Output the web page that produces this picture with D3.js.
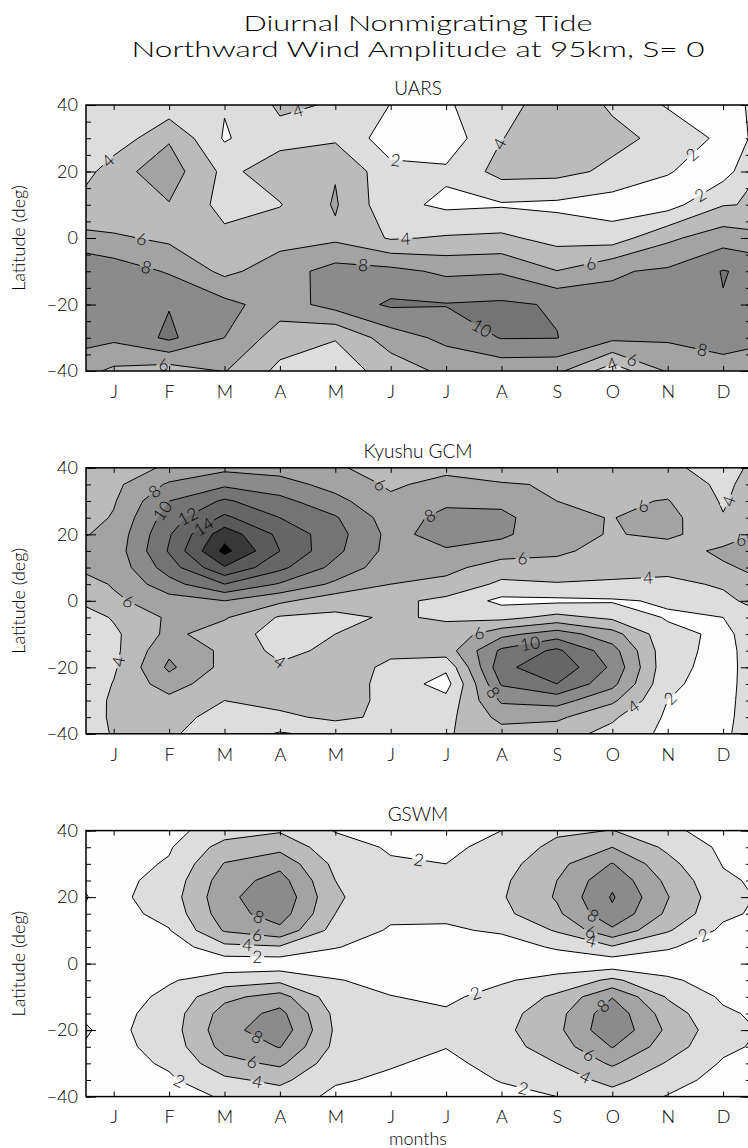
<!DOCTYPE html>
<html lang="en">
<head>
<meta charset="UTF-8">
<title>Diurnal Nonmigrating Tide</title>
<script src="https://d3js.org/d3.v7.min.js"></script>
<style>
  body { margin: 0; background: #fff; }
  text { font-family: Lato, "DejaVu Sans", sans-serif; font-weight: 300; }
</style>
</head>
<body>
<div id="chart"></div>
<script>
// ---- data -------------------------------------------------------------
const monthLabels = ["J", "F", "M", "A", "M", "J", "J", "A", "S", "O", "N", "D"];
const latTicks = [40, 20, 0, -20, -40];
const minorLatTicks = d3.range(-40, 41, 5);
const levels = [2, 4, 6, 8, 10, 12, 14, 16, 18];
const bandColors = ["#fdfdfd", "#dddddd", "#bbbbbb", "#a3a3a3", "#8b8b8b",
                    "#747474", "#666666", "#5a5a5a", "#383838", "#000000"];

// UARS, 10 deg latitude rows (40 .. -40), columns Jan .. Dec
const uarsLats = [40, 30, 20, 10, 0, -10, -20, -30, -40];
const uarsRows = [
  [2.6, 2.7, 2.13, 4.3, 3.85, 1.95, 1.8, 3.1, 5.3, 3.75, 1.8, 1.6],
  [2.6, 5.8, 1.8, 3.4, 3.7, 0.9, 0.8, 3.95, 5.0, 4.5, 3.5, 1.5],
  [5.3, 7.0, 3.5, 5.0, 5.87, 2.6, 2.33, 4.7, 4.6, 3.6, 2.1, 1.2],
  [4.3, 5.9, 3.33, 3.9, 6.2, 2.6, 1.6, 1.8, 1.6, 1.0, 1.2, 3.9],
  [6.3, 5.6, 4.5, 5.3, 5.6, 3.8, 4.2, 4.4, 3.3, 3.0, 5.6, 7.1],
  [9.1, 7.8, 5.5, 7.05, 8.8, 8.6, 7.6, 7.8, 6.05, 7.8, 8.3, 10.1],
  [9.5, 9.9, 8.6, 7.0, 8.8, 10.3, 10.1, 10.3, 9.83, 8.5, 9.0, 9.9],
  [8.4, 10.4, 8.0, 5.0, 4.1, 7.0, 8.5, 10.1, 10.05, 8.5, 8.3, 8.5],
  [5.6, 4.9, 6.1, 3.5, 3.0, 4.8, 6.5, 6.6, 6.5, 2.8, 6.2, 7.5]
];

// Kyushu GCM, 5 deg latitude rows (40 .. -40)
const kyushuLats = d3.range(40, -41, -5);
const kyushuRows = [
  [5.0, 6.3, 7.5, 7.2, 6.3, 5.0, 5.5, 4.6, 4.6, 4.5, 4.3, 3.4],
  [5.5, 8.3, 9.6, 8.8, 7.3, 5.7, 6.6, 6.2, 5.8, 5.4, 5.2, 3.6],
  [5.8, 10.0, 12.3, 10.6, 8.6, 6.4, 7.6, 7.4, 6.0, 5.7, 6.1, 3.8],
  [6.2, 11.0, 14.4, 12.0, 10.2, 7.0, 8.6, 8.6, 6.3, 5.95, 6.7, 4.1],
  [6.6, 11.8, 17.2, 13.5, 10.8, 7.4, 8.8, 8.4, 6.5, 5.9, 6.3, 5.2],
  [6.8, 12.2, 18.6, 14.0, 10.5, 7.3, 7.8, 7.0, 6.2, 5.6, 5.3, 6.3],
  [6.6, 11.0, 15.8, 12.5, 9.4, 6.8, 6.6, 5.0, 5.6, 5.0, 4.7, 5.8],
  [6.2, 9.2, 12.0, 9.8, 7.6, 6.0, 5.4, 3.6, 3.8, 3.6, 3.4, 4.3],
  [5.6, 7.2, 8.0, 6.4, 4.8, 4.5, 3.5, 1.5, 1.6, 1.8, 2.2, 3.4],
  [4.2, 6.3, 6.2, 3.8, 3.6, 4.2, 3.8, 3.4, 4.6, 3.6, 1.8, 2.0],
  [3.6, 6.5, 5.0, 3.2, 4.0, 4.3, 4.6, 7.4, 9.0, 6.8, 2.6, 1.6],
  [3.5, 7.6, 5.6, 3.4, 4.5, 4.4, 5.0, 10.4, 12.4, 8.8, 2.6, 1.5],
  [3.7, 8.4, 5.4, 4.3, 5.0, 3.6, 2.4, 11.4, 13.6, 9.6, 2.5, 1.4],
  [4.1, 7.0, 4.6, 4.8, 5.3, 3.2, 1.2, 10.2, 12.0, 8.6, 2.3, 1.3],
  [4.4, 5.4, 4.0, 4.6, 5.0, 3.4, 2.6, 8.3, 8.8, 6.4, 2.0, 1.3],
  [4.4, 4.4, 3.6, 3.6, 4.4, 3.6, 3.4, 6.6, 6.4, 4.3, 1.7, 1.4],
  [4.2, 4.2, 3.2, 1.8, 2.6, 3.4, 3.8, 5.2, 4.8, 3.4, 1.5, 1.6]
];

// GSWM, 5 deg latitude rows (40 .. -40)
const gswmLats = d3.range(40, -41, -5);
const gswmRows = [
  [0.8, 1.4, 3.0, 3.8, 1.9, 1.4, 1.2, 2.0, 3.6, 4.05, 2.4, 1.2],
  [1.0, 1.8, 4.8, 5.4, 2.8, 1.8, 1.6, 2.6, 4.6, 6.0, 3.6, 1.6],
  [1.2, 2.2, 6.1, 7.4, 3.5, 2.2, 2.0, 3.2, 5.4, 8.1, 4.6, 1.9],
  [1.4, 2.7, 7.0, 8.8, 4.0, 2.5, 2.3, 3.6, 6.0, 9.5, 5.5, 2.3],
  [1.5, 3.0, 7.4, 9.6, 4.3, 2.6, 2.4, 3.8, 6.2, 10.2, 6.1, 2.6],
  [1.3, 2.6, 7.1, 9.0, 4.0, 2.4, 2.3, 3.5, 5.6, 9.6, 5.6, 2.4],
  [1.0, 1.9, 6.2, 7.5, 3.2, 1.8, 1.8, 2.2, 4.2, 7.6, 4.2, 1.6],
  [0.6, 0.8, 3.5, 3.8, 2.1, 1.2, 1.2, 1.3, 2.2, 3.8, 2.2, 1.0],
  [0.4, 0.5, 0.8, 0.8, 0.9, 0.8, 0.7, 0.8, 1.0, 0.8, 1.0, 0.6],
  [0.6, 1.8, 3.0, 3.5, 2.1, 1.5, 1.2, 1.8, 2.6, 4.4, 2.3, 1.2],
  [1.0, 2.5, 5.5, 6.8, 2.8, 2.05, 1.7, 2.6, 4.4, 7.9, 3.8, 1.7],
  [1.35, 2.9, 6.8, 8.6, 3.5, 2.5, 2.2, 3.2, 5.3, 9.3, 5.0, 2.3],
  [1.55, 3.0, 7.27, 9.3, 3.7, 2.7, 2.4, 3.5, 5.5, 9.6, 5.6, 2.7],
  [1.4, 2.8, 6.7, 8.1, 3.5, 2.5, 2.05, 3.2, 5.0, 8.1, 5.0, 2.4],
  [1.2, 2.3, 5.3, 6.4, 2.8, 2.15, 1.6, 2.6, 4.0, 6.3, 3.8, 1.8],
  [1.0, 1.7, 3.6, 4.5, 2.2, 1.7, 1.2, 2.1, 3.0, 4.6, 2.8, 1.3],
  [0.9, 1.2, 2.2, 3.0, 1.6, 1.2, 0.9, 1.5, 2.0, 3.2, 1.9, 1.0]
];

// contour labels: level, month (Jan = 1), latitude
const uarsLabels = [
  [4, 0.93, 22.6], [4, 4.33, 38], [6, 1.5, -1], [8, 1.57, -10], [8, 5.5, -8.8],
  [6, 1.9, -38], [2, 6.09, 23.8], [4, 7.95, 28.5], [2, 11.42, 25.5], [2, 11.64, 11.5],
  [4, 6.27, -0.7], [6, 9.61, -7.4], [10, 7.66, -26.6], [8, 11.64, -32.4],
  [6, 10.37, -36.3], [4, 10.0, -38]
];
const kyushuLabels = [
  [8, 1.57, 36.3], [10, 1.6, 30.3], [12, 2.25, 28.3], [14, 2.53, 24.8], [6, 4.6, 36.6],
  [6, 1.2, -2.4], [4, 0.81, -17.4], [4, 4.13, -24.4], [8, 6.72, 25.2], [6, 8.38, 11.7],
  [6, 10.64, 25.2], [4, 10.64, 8.3], [6, 7.56, -6.7], [10, 8.47, -8.3], [8, 8.04, -25.5],
  [4, 10.39, -32], [2, 11.09, -30], [4, 12.27, 28.8], [6, 12.3, 18.8]
];
const gswmLabels = [
  [8, 3.61, 13.6], [6, 3.59, 8.6], [4, 3.41, 6.1], [2, 3.59, 2.6],
  [8, 3.59, -22], [6, 3.5, -29.5], [4, 3.59, -35.9], [2, 2.17, -35.8],
  [2, 6.51, 31.4], [8, 9.64, 14.1], [6, 9.61, 9.6], [4, 9.61, 6.1], [2, 11.66, 8.1],
  [2, 7.53, -8.9], [8, 9.79, -11.9], [6, 9.58, -27.5], [4, 9.52, -33.8], [2, 8.41, -36.5]
];

const panels = [
  { title: "UARS", lats: uarsLats, rows: uarsRows, labels: uarsLabels },
  { title: "Kyushu GCM", lats: kyushuLats, rows: kyushuRows, labels: kyushuLabels },
  { title: "GSWM", lats: gswmLats, rows: gswmRows, labels: gswmLabels }
];

// ---- layout -----------------------------------------------------------
const width = 748, height = 1148;
const plotLeft = 86, monthStep = 55.4, plotH = 266;
const panelTops = [105, 467.8, 830.6];

const svg = d3.select("#chart").append("svg")
  .attr("width", width).attr("height", height)
  .style("background", "#fff");

svg.append("text").attr("x", 418).attr("y", 31)
  .attr("text-anchor", "middle").attr("font-size", 21)
  .attr("textLength", 349).attr("lengthAdjust", "spacingAndGlyphs")
  .text("Diurnal Nonmigrating Tide");
svg.append("text").attr("x", 418).attr("y", 57)
  .attr("text-anchor", "middle").attr("font-size", 21)
  .attr("textLength", 573).attr("lengthAdjust", "spacingAndGlyphs")
  .text("Northward Wind Amplitude at 95km, S= 0");

const x = d3.scaleLinear().domain([0.5, 12.5]).range([plotLeft, plotLeft + 12 * monthStep]);

panels.forEach((p, pi) => {
  const top = panelTops[pi];
  const y = d3.scaleLinear().domain([40, -40]).range([top, top + plotH]);
  const g = svg.append("g");

  // wrap the year: Dec before Jan and Jan after Dec
  const nx = 14, ny = p.rows.length;
  const values = [];
  p.rows.forEach(r => { values.push(r[11], ...r, r[0]); });

  const latStep = p.lats[1] - p.lats[0];
  const toPx = (cx, cy) => [x(cx - 0.5), y(p.lats[0] + (cy - 0.5) * latStep)];
  const proj = d3.geoTransform({
    point: function(cx, cy) { const q = toPx(cx, cy); this.stream.point(q[0], q[1]); }
  });
  const path = d3.geoPath(proj);
  const contours = d3.contours().size([nx, ny]).thresholds(levels)(values);

  const clipId = "clip" + pi;
  svg.append("clipPath").attr("id", clipId).append("rect")
    .attr("x", x(0.5)).attr("y", y(40)).attr("width", x(12.5) - x(0.5)).attr("height", plotH);

  const plot = g.append("g").attr("clip-path", `url(#${clipId})`);
  plot.append("rect")
    .attr("x", x(0.5)).attr("y", y(40)).attr("width", x(12.5) - x(0.5)).attr("height", plotH)
    .attr("fill", bandColors[0]);
  plot.selectAll("path.fill").data(contours).join("path")
    .attr("class", "fill")
    .attr("d", path)
    .attr("fill", (d, i) => bandColors[i + 1]);

  // contour labels, snapped onto the nearest segment of their level
  const x0 = x(0.5), x1 = width - 2, y0 = y(40), y1 = y(-40);
  const placed = [];
  p.labels.forEach(([lev, m, lat]) => {
    const c = contours[levels.indexOf(lev)];
    const ax = x(m), ay = y(lat);
    let best = null;
    c.coordinates.forEach(poly => poly.forEach(ring => {
      const pts = ring.map(([cx, cy]) => toPx(cx, cy));
      for (let k = 1; k < pts.length; k++) {
        const [px, py] = pts[k - 1], [qx, qy] = pts[k];
        const dx = qx - px, dy = qy - py, L2 = dx * dx + dy * dy;
        if (L2 === 0) continue;
        let t = ((ax - px) * dx + (ay - py) * dy) / L2;
        t = Math.max(0, Math.min(1, t));
        const sx = px + t * dx, sy = py + t * dy;
        if (sx < x0 + 2 || sx > x1 || sy < y0 + 2 || sy > y1 - 2) continue;
        const dist = Math.hypot(sx - ax, sy - ay);
        if (!best || dist < best.dist) best = { dist, sx, sy, ang: Math.atan2(dy, dx) * 180 / Math.PI };
      }
    }));
    if (!best) return;
    let ang = best.ang;
    if (ang > 90) ang -= 180;
    if (ang < -90) ang += 180;
    placed.push({ lev, sx: best.sx, sy: best.sy, ang, w: String(lev).length * 10 + 4 });
  });

  // gaps in the contour lines under the labels
  const maskId = "mask" + pi;
  const mask = svg.append("mask").attr("id", maskId).attr("maskUnits", "userSpaceOnUse")
    .attr("x", 0).attr("y", 0).attr("width", width).attr("height", height);
  mask.append("rect").attr("width", width).attr("height", height).attr("fill", "#fff");
  mask.selectAll("rect.gap").data(placed).join("rect")
    .attr("class", "gap")
    .attr("x", d => -d.w / 2).attr("y", -7).attr("width", d => d.w).attr("height", 14)
    .attr("transform", d => `translate(${d.sx},${d.sy}) rotate(${d.ang})`)
    .attr("fill", "#000");

  plot.append("g").attr("mask", `url(#${maskId})`)
    .selectAll("path.line").data(contours).join("path")
    .attr("class", "line")
    .attr("d", path)
    .attr("fill", "none")
    .attr("stroke", "#000")
    .attr("stroke-width", 1);

  g.selectAll("text.clabel").data(placed).join("text")
    .attr("class", "clabel")
    .attr("transform", d => `translate(${d.sx},${d.sy}) rotate(${d.ang})`)
    .attr("text-anchor", "middle").attr("dy", "0.36em")
    .attr("font-size", 17).attr("fill", "#000")
    .text(d => d.lev);

  // frame and ticks
  const axisFont = sel => sel.selectAll("text").attr("font-size", 18).attr("fill", "#000")
    .style("font-family", 'Lato, "DejaVu Sans", sans-serif').style("font-weight", 300);
  const months = d3.range(1, 13);

  g.append("g").attr("transform", `translate(0,${y(-40)})`)
    .call(d3.axisBottom(x).tickValues(months).tickSize(-5).tickPadding(14)
      .tickFormat((d, i) => monthLabels[i]))
    .call(a => a.select(".domain").remove())
    .call(axisFont);
  g.append("g").attr("transform", `translate(0,${y(40)})`)
    .call(d3.axisTop(x).tickValues(months).tickSize(-5).tickFormat(""))
    .call(a => a.select(".domain").remove());
  g.append("g").attr("transform", `translate(${x(0.5)},0)`)
    .call(d3.axisLeft(y).tickValues(latTicks).tickSize(-10).tickPadding(8)
      .tickFormat(d => d < 0 ? "\u2212" + Math.abs(d) : d))
    .call(a => a.select(".domain").remove())
    .call(axisFont);
  g.append("g").attr("transform", `translate(${x(0.5)},0)`)
    .call(d3.axisLeft(y).tickValues(minorLatTicks).tickSize(-5).tickFormat(""))
    .call(a => a.select(".domain").remove());
  g.append("g").attr("transform", `translate(${x(12.5)},0)`)
    .call(d3.axisRight(y).tickValues(latTicks).tickSize(-10).tickFormat(""))
    .call(a => a.select(".domain").remove());
  g.append("g").attr("transform", `translate(${x(12.5)},0)`)
    .call(d3.axisRight(y).tickValues(minorLatTicks).tickSize(-5).tickFormat(""))
    .call(a => a.select(".domain").remove());

  g.append("rect")
    .attr("x", x(0.5)).attr("y", y(40)).attr("width", x(12.5) - x(0.5)).attr("height", plotH)
    .attr("fill", "none").attr("stroke", "#000").attr("stroke-width", 1.5);

  g.append("text").attr("x", 418).attr("y", top - 10)
    .attr("text-anchor", "middle").attr("font-size", 19)
    .text(p.title);

  g.append("text")
    .attr("transform", `translate(25,${top + plotH / 2}) rotate(-90)`)
    .attr("text-anchor", "middle").attr("font-size", 18)
    .text("Latitude (deg)");
});

svg.append("text").attr("x", 418).attr("y", 1145)
  .attr("text-anchor", "middle").attr("font-size", 18)
  .text("months");
</script>
</body>
</html>
